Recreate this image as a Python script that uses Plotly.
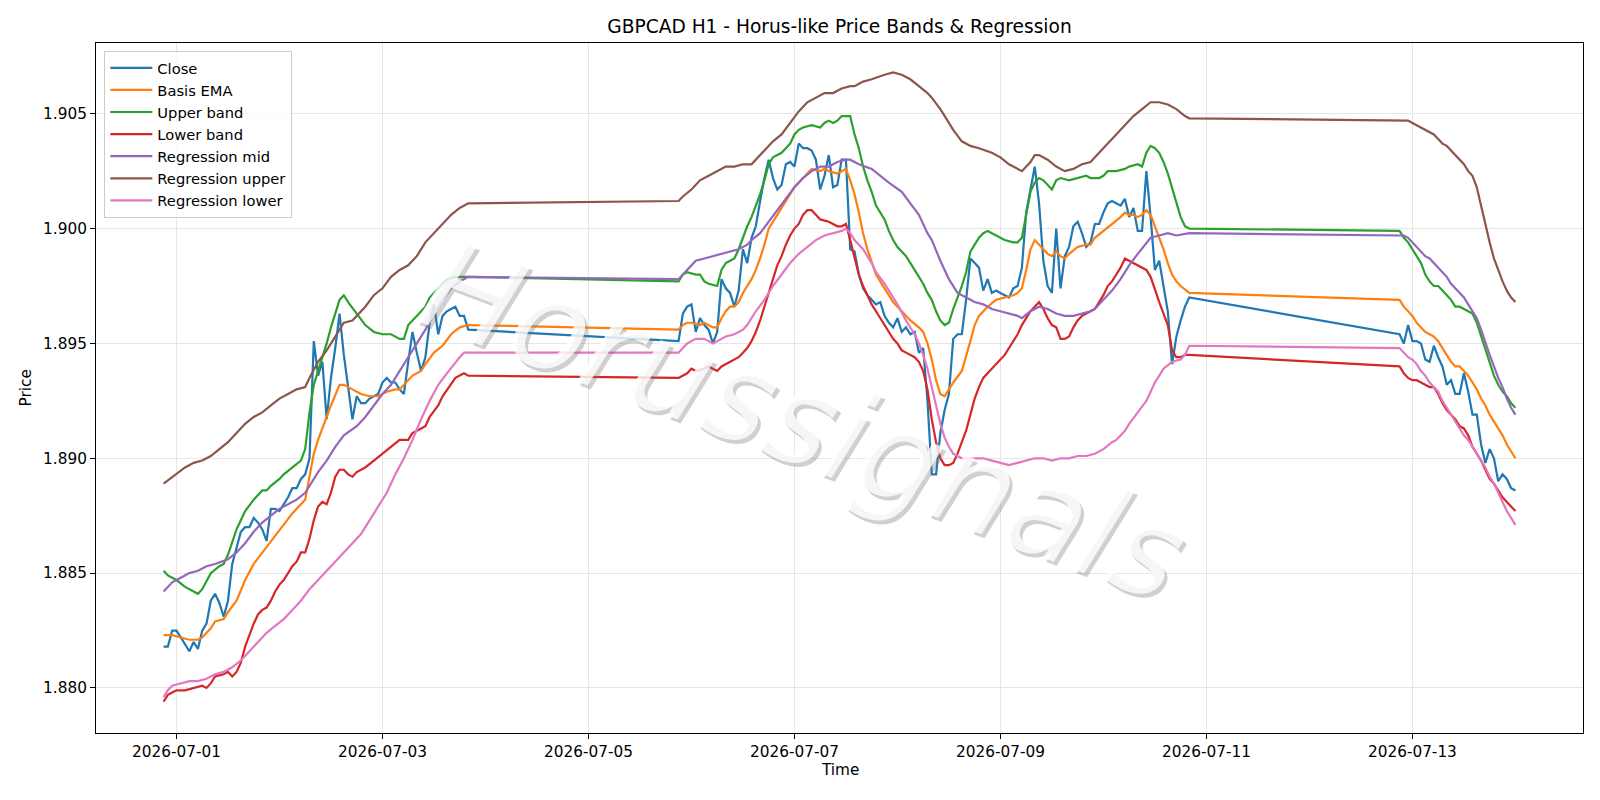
import pandas as pd
import plotly.graph_objects as go

BASE = pd.Timestamp("2026-07-01 00:00")

# ---------------- data (hours relative to 2026-07-01 00:00) ----------------
close_hours = list(range(-3, 69)) + list(range(117, 237)) + list(range(285, 313))
close_seg1 = [1.8818, 1.8818, 1.8825, 1.8825, 1.8822, 1.8819, 1.8816, 1.8820, 1.8817, 1.8825,
              1.8828, 1.8838, 1.8841, 1.8837, 1.8831, 1.8838, 1.8854, 1.8861, 1.8868, 1.8870,
              1.8870, 1.8874, 1.8872, 1.8869, 1.8864, 1.8878, 1.8878, 1.8877, 1.8880, 1.8883,
              1.8887, 1.8887, 1.8891, 1.8893, 1.8900, 1.8951, 1.8936, 1.8942, 1.8917, 1.8935,
              1.8948, 1.8963, 1.8945, 1.8930, 1.8917, 1.8927, 1.8924, 1.8924, 1.8926, 1.8927,
              1.8928, 1.8933, 1.8935, 1.8933, 1.8933, 1.8930, 1.8928, 1.8942, 1.8955, 1.8946,
              1.8938, 1.8944, 1.8959, 1.8967, 1.8954, 1.8962, 1.8964, 1.8965, 1.8966, 1.8962,
              1.8962, 1.8956]
close_seg2 = [1.8951, 1.8963, 1.8966, 1.8967, 1.8955, 1.8961, 1.8958, 1.8956, 1.8950, 1.8955,
              1.8978, 1.8974, 1.8972, 1.8966, 1.8973, 1.8991, 1.8985, 1.8996, 1.9001, 1.9012,
              1.9022, 1.9030, 1.9022, 1.9017, 1.9019, 1.9028, 1.9029, 1.9027, 1.9037, 1.9035,
              1.9035, 1.9034, 1.9030, 1.9017, 1.9023, 1.9032, 1.9018, 1.9019, 1.9030, 1.9030,
              1.8991, 1.8990, 1.8980, 1.8974, 1.8971, 1.8969, 1.8967, 1.8968, 1.8962, 1.8959,
              1.8957, 1.8961, 1.8955, 1.8957, 1.8954, 1.8955, 1.8946, 1.8948, 1.8925, 1.8893,
              1.8893, 1.8911, 1.8921, 1.8928, 1.8952, 1.8954, 1.8954, 1.8969, 1.8987, 1.8985,
              1.8983, 1.8973, 1.8978, 1.8972, 1.8973, 1.8972, 1.8971, 1.8970, 1.8974, 1.8975,
              1.8983, 1.9007, 1.9017, 1.9027, 1.9011, 1.8986, 1.8975, 1.8972, 1.9000, 1.8974,
              1.8988, 1.8992, 1.9001, 1.9003, 1.8998, 1.8992, 1.8994, 1.9002, 1.9002, 1.9007,
              1.9011, 1.9012, 1.9011, 1.9010, 1.9013, 1.9005, 1.9009, 1.8999, 1.8999, 1.9025,
              1.9005, 1.8982, 1.8986, 1.8975, 1.8964, 1.8941, 1.8953, 1.8960, 1.8966, 1.8970]
close_seg3 = [1.8954, 1.8950, 1.8958, 1.8951, 1.8951, 1.8950, 1.8943, 1.8942, 1.8949, 1.8944,
              1.8940, 1.8932, 1.8934, 1.8928, 1.8928, 1.8937, 1.8929, 1.8919, 1.8919, 1.8906,
              1.8898, 1.8904, 1.8900, 1.8890, 1.8893, 1.8891, 1.8887, 1.8886]

seg3_hours = list(range(285, 313))

ema_pts = [(-3, 1.8823), (-1, 1.8823), (1, 1.8822), (3, 1.8821), (5, 1.8821), (6, 1.8822), (8, 1.8826),
           (9, 1.8829), (11, 1.8830), (12, 1.8833), (14, 1.8838), (16, 1.8847), (18, 1.8854), (20, 1.8859),
           (21, 1.8861), (23, 1.8866), (25, 1.8871), (27, 1.8876), (29, 1.8880), (30, 1.8882), (31, 1.8892),
           (32, 1.8902), (33, 1.8908), (34, 1.8913), (36, 1.8923), (38, 1.8932), (39, 1.8932), (41, 1.8930),
           (43, 1.8928), (45, 1.8927), (47, 1.8927), (49, 1.8929), (51, 1.8930), (52, 1.8930), (53, 1.8932),
           (55, 1.8936), (57, 1.8938), (58, 1.8941), (60, 1.8946), (62, 1.8949), (64, 1.8954), (66, 1.8957),
           (68, 1.8958),
           (117, 1.8956), (118, 1.8958), (119, 1.8959), (120, 1.8959), (122, 1.8958), (123, 1.8959),
           (124, 1.8958), (125, 1.8957), (126, 1.8957), (127, 1.8961), (128, 1.8964), (129, 1.8966),
           (130, 1.8966), (131, 1.8968), (132, 1.8972), (133, 1.8975), (134, 1.8978), (135, 1.8982),
           (136, 1.8987), (137, 1.8993), (138, 1.9000), (140, 1.9006), (142, 1.9012), (144, 1.9018),
           (146, 1.9022), (148, 1.9026), (150, 1.9025), (151, 1.9026), (152, 1.9025), (154, 1.9024),
           (155, 1.9025), (156, 1.9026), (157, 1.9021), (158, 1.9015), (159, 1.9007), (160, 1.8998),
           (161, 1.8991), (162, 1.8985), (163, 1.8980), (165, 1.8974), (167, 1.8968), (169, 1.8964),
           (171, 1.8960), (173, 1.8957), (174, 1.8955), (175, 1.8950), (176, 1.8943), (177, 1.8934),
           (178, 1.8928), (179, 1.8927), (180, 1.8930), (181, 1.8933), (183, 1.8938), (184, 1.8944),
           (185, 1.8951), (186, 1.8958), (187, 1.8962), (189, 1.8966), (191, 1.8969), (193, 1.8970),
           (195, 1.8971), (196, 1.8972), (197, 1.8974), (198, 1.8982), (199, 1.8991), (200, 1.8995),
           (201, 1.8993), (203, 1.8989), (204, 1.8988), (205, 1.8990), (206, 1.8988), (207, 1.8987),
           (208, 1.8989), (210, 1.8992), (212, 1.8993), (213, 1.8993), (214, 1.8996), (216, 1.8999),
           (218, 1.9002), (220, 1.9005), (221, 1.9007), (222, 1.9006), (223, 1.9006), (224, 1.9005),
           (225, 1.9006), (226, 1.9008), (227, 1.9006), (228, 1.9001), (229, 1.8996), (230, 1.8991),
           (231, 1.8985), (232, 1.8980), (233, 1.8977), (234, 1.8975), (236, 1.8972)]
ema_seg3 = [1.8969, 1.8966, 1.8964, 1.8962, 1.8959, 1.8957, 1.8955, 1.8954, 1.8953, 1.8951,
            1.8948, 1.8945, 1.8942, 1.8940, 1.8940, 1.8938, 1.8936, 1.8933, 1.8930, 1.8926,
            1.8923, 1.8919, 1.8916, 1.8913, 1.8910, 1.8906, 1.8903, 1.8900]

upper_pts = [(-3, 1.8851), (-2, 1.8849), (0, 1.8847), (2, 1.8844), (4, 1.8842), (5, 1.8841), (6, 1.8843),
             (8, 1.8850), (10, 1.8853), (11, 1.8854), (12, 1.8858), (14, 1.8869), (16, 1.8877), (18, 1.8882),
             (20, 1.8886), (21, 1.8886), (22, 1.8888), (24, 1.8891), (25, 1.8893), (27, 1.8896), (29, 1.8899),
             (30, 1.8904), (31, 1.8920), (32, 1.8932), (33, 1.8938), (34, 1.8943), (35, 1.8950), (36, 1.8957),
             (37, 1.8963), (38, 1.8969), (39, 1.8971), (40, 1.8968), (42, 1.8963), (44, 1.8958), (46, 1.8955),
             (48, 1.8954), (50, 1.8954), (52, 1.8952), (53, 1.8952), (54, 1.8958), (56, 1.8962), (58, 1.8966),
             (59, 1.8970), (61, 1.8974), (63, 1.8978), (65, 1.8979), (68, 1.8979),
             (117, 1.8977), (118, 1.8980), (119, 1.8981), (121, 1.8980), (122, 1.8980), (123, 1.8977),
             (124, 1.8976), (126, 1.8975), (127, 1.8982), (128, 1.8985), (129, 1.8986), (130, 1.8987),
             (131, 1.8991), (132, 1.8996), (133, 1.9001), (134, 1.9005), (135, 1.9010), (136, 1.9015),
             (137, 1.9021), (138, 1.9028), (139, 1.9031), (140, 1.9032), (141, 1.9033), (142, 1.9035),
             (143, 1.9037), (144, 1.9041), (145, 1.9043), (146, 1.9044), (148, 1.9045), (150, 1.9044),
             (151, 1.9046), (152, 1.9047), (153, 1.9046), (154, 1.9047), (155, 1.9049), (157, 1.9049),
             (158, 1.9041), (159, 1.9035), (160, 1.9027), (161, 1.9021), (162, 1.9016), (163, 1.9010),
             (164, 1.9007), (165, 1.9004), (166, 1.8999), (167, 1.8995), (168, 1.8992), (170, 1.8988),
             (172, 1.8982), (173, 1.8979), (174, 1.8976), (175, 1.8972), (176, 1.8969), (177, 1.8964),
             (178, 1.8960), (179, 1.8958), (180, 1.8959), (181, 1.8965), (182, 1.8970), (183, 1.8975),
             (184, 1.8981), (185, 1.8990), (186, 1.8993), (187, 1.8996), (188, 1.8998), (189, 1.8999),
             (190, 1.8998), (192, 1.8996), (193, 1.8995), (195, 1.8994), (196, 1.8994), (197, 1.8996),
             (198, 1.9006), (199, 1.9016), (200, 1.9020), (201, 1.9022), (202, 1.9021), (203, 1.9019),
             (204, 1.9017), (205, 1.9021), (206, 1.9022), (208, 1.9021), (210, 1.9022), (212, 1.9023),
             (213, 1.9022), (215, 1.9022), (216, 1.9023), (217, 1.9025), (219, 1.9025), (221, 1.9026),
             (222, 1.9027), (224, 1.9028), (225, 1.9027), (226, 1.9033), (227, 1.9036), (228, 1.9035),
             (229, 1.9033), (230, 1.9029), (231, 1.9024), (232, 1.9018), (233, 1.9012), (234, 1.9005),
             (235, 1.9001), (236, 1.9000)]
upper_seg3 = [1.8999, 1.8996, 1.8994, 1.8991, 1.8988, 1.8985, 1.8980, 1.8977, 1.8975, 1.8975,
              1.8973, 1.8971, 1.8969, 1.8966, 1.8966, 1.8965, 1.8964, 1.8963, 1.8959, 1.8953,
              1.8947, 1.8941, 1.8936, 1.8932, 1.8929, 1.8927, 1.8924, 1.8922]

lower_pts = [(-3, 1.8794), (-2, 1.8797), (-1, 1.8798), (0, 1.8799), (2, 1.8799), (4, 1.8800), (6, 1.8801),
             (7, 1.8800), (8, 1.8802), (9, 1.8805), (11, 1.8806), (12, 1.8807), (13, 1.8805), (14, 1.8807),
             (15, 1.8811), (16, 1.8818), (17, 1.8823), (18, 1.8828), (19, 1.8832), (20, 1.8834), (21, 1.8835),
             (22, 1.8838), (23, 1.8842), (24, 1.8845), (25, 1.8847), (26, 1.8850), (27, 1.8853), (28, 1.8855),
             (29, 1.8859), (30, 1.8859), (31, 1.8865), (32, 1.8873), (33, 1.8879), (34, 1.8881), (35, 1.8880),
             (36, 1.8885), (37, 1.8892), (38, 1.8895), (39, 1.8895), (40, 1.8893), (41, 1.8892), (42, 1.8894),
             (44, 1.8896), (46, 1.8899), (48, 1.8902), (50, 1.8905), (52, 1.8908), (54, 1.8908), (55, 1.8911),
             (57, 1.8913), (58, 1.8914), (59, 1.8918), (61, 1.8923), (62, 1.8927), (64, 1.8932), (65, 1.8935),
             (67, 1.8937), (68, 1.8936),
             (117, 1.8935), (118, 1.8936), (119, 1.8937), (120, 1.8939), (121, 1.8938), (123, 1.8939),
             (124, 1.8940), (125, 1.8939), (126, 1.8938), (127, 1.8940), (128, 1.8941), (129, 1.8942),
             (130, 1.8943), (131, 1.8944), (132, 1.8946), (133, 1.8948), (134, 1.8951), (135, 1.8955),
             (136, 1.8960), (137, 1.8966), (138, 1.8973), (139, 1.8979), (140, 1.8984), (141, 1.8988),
             (142, 1.8993), (143, 1.8997), (144, 1.9000), (145, 1.9002), (146, 1.9006), (147, 1.9008),
             (148, 1.9008), (149, 1.9006), (150, 1.9004), (152, 1.9003), (154, 1.9001), (155, 1.9001),
             (156, 1.9002), (157, 1.8995), (158, 1.8987), (159, 1.8980), (160, 1.8975), (161, 1.8971),
             (162, 1.8967), (163, 1.8964), (164, 1.8961), (165, 1.8958), (166, 1.8955), (167, 1.8952),
             (168, 1.8950), (169, 1.8947), (170, 1.8946), (171, 1.8945), (172, 1.8944), (173, 1.8942),
             (174, 1.8938), (175, 1.8930), (176, 1.8917), (177, 1.8907), (178, 1.8900), (179, 1.8897),
             (180, 1.8897), (181, 1.8898), (182, 1.8902), (183, 1.8907), (184, 1.8912), (185, 1.8919),
             (186, 1.8926), (187, 1.8931), (188, 1.8935), (189, 1.8937), (190, 1.8939), (191, 1.8941),
             (192, 1.8943), (193, 1.8945), (194, 1.8948), (195, 1.8951), (196, 1.8954), (197, 1.8958),
             (198, 1.8961), (199, 1.8964), (200, 1.8966), (201, 1.8968), (202, 1.8965), (203, 1.8961),
             (204, 1.8958), (205, 1.8957), (206, 1.8952), (207, 1.8952), (208, 1.8953), (209, 1.8957),
             (210, 1.8960), (211, 1.8962), (212, 1.8963), (213, 1.8964), (214, 1.8965), (215, 1.8968),
             (216, 1.8971), (217, 1.8975), (218, 1.8977), (219, 1.8980), (220, 1.8983), (221, 1.8987),
             (222, 1.8986), (223, 1.8985), (224, 1.8984), (225, 1.8983), (226, 1.8982), (227, 1.8979),
             (228, 1.8973), (229, 1.8968), (230, 1.8963), (231, 1.8958), (232, 1.8947), (233, 1.8944),
             (234, 1.8944), (235, 1.8945), (236, 1.8945)]
lower_seg3 = [1.8940, 1.8937, 1.8935, 1.8934, 1.8934, 1.8933, 1.8932, 1.8931, 1.8931, 1.8928,
              1.8924, 1.8921, 1.8919, 1.8917, 1.8914, 1.8913, 1.8910, 1.8905, 1.8902, 1.8899,
              1.8895, 1.8891, 1.8889, 1.8886, 1.8883, 1.8881, 1.8879, 1.8877]

mid_pts = [(-3, 1.8842), (-1, 1.8846), (1, 1.8848), (3, 1.8850), (5, 1.8851), (7, 1.8853), (9, 1.8854),
           (12, 1.8856), (14, 1.8859), (16, 1.8863), (18, 1.8868), (20, 1.8872), (22, 1.8875), (24, 1.8878),
           (26, 1.8880), (28, 1.8882), (30, 1.8885), (31, 1.8888), (33, 1.8894), (35, 1.8899), (37, 1.8905),
           (39, 1.8910), (42, 1.8914), (44, 1.8918), (46, 1.8923), (48, 1.8928), (50, 1.8932), (52, 1.8938),
           (54, 1.8944), (56, 1.8950), (58, 1.8956), (60, 1.8963), (62, 1.8969), (64, 1.8974), (66, 1.8977),
           (68, 1.8979),
           (117, 1.8978), (118, 1.8980), (120, 1.8984), (121, 1.8986), (123, 1.8987), (125, 1.8988),
           (127, 1.8989), (129, 1.8990), (131, 1.8991), (133, 1.8993), (134, 1.8995), (136, 1.8998),
           (138, 1.9003), (140, 1.9008), (142, 1.9013), (144, 1.9018), (146, 1.9022), (148, 1.9025),
           (150, 1.9027), (152, 1.9027), (154, 1.9029), (156, 1.9030), (157, 1.9030), (159, 1.9028),
           (162, 1.9026), (164, 1.9023), (166, 1.9020), (169, 1.9016), (171, 1.9011), (173, 1.9006),
           (175, 1.8998), (176, 1.8995), (178, 1.8986), (180, 1.8978), (182, 1.8972), (184, 1.8970),
           (186, 1.8968), (188, 1.8967), (190, 1.8965), (192, 1.8964), (194, 1.8963), (196, 1.8962),
           (197, 1.8961), (199, 1.8964), (201, 1.8966), (203, 1.8965), (205, 1.8963), (207, 1.8962),
           (209, 1.8962), (211, 1.8963), (213, 1.8964), (214, 1.8965), (216, 1.8969), (218, 1.8973),
           (220, 1.8978), (222, 1.8984), (224, 1.8989), (226, 1.8994), (227, 1.8996), (229, 1.8997),
           (231, 1.8998), (233, 1.8997), (236, 1.8998)]
mid_seg3 = [1.8997, 1.8997, 1.8996, 1.8994, 1.8992, 1.8990, 1.8988, 1.8987, 1.8985, 1.8983,
            1.8981, 1.8979, 1.8976, 1.8974, 1.8972, 1.8970, 1.8967, 1.8964, 1.8961, 1.8956,
            1.8950, 1.8945, 1.8940, 1.8935, 1.8931, 1.8926, 1.8922, 1.8919]

reg_up_pts = [(-3, 1.8889), (0, 1.8893), (2, 1.8896), (4, 1.8898), (6, 1.8899), (8, 1.8901), (10, 1.8904),
              (12, 1.8907), (14, 1.8911), (16, 1.8915), (18, 1.8918), (20, 1.8920), (22, 1.8923), (24, 1.8926),
              (26, 1.8928), (28, 1.8930), (30, 1.8931), (31, 1.8935), (33, 1.8942), (35, 1.8947), (37, 1.8953),
              (39, 1.8959), (41, 1.8960), (42, 1.8962), (44, 1.8966), (46, 1.8971), (48, 1.8974), (50, 1.8979),
              (52, 1.8982), (54, 1.8984), (56, 1.8988), (58, 1.8994), (60, 1.8998), (62, 1.9002), (64, 1.9006),
              (66, 1.9009), (68, 1.9011),
              (117, 1.9012), (118, 1.9014), (120, 1.9017), (122, 1.9021), (124, 1.9023), (126, 1.9025),
              (128, 1.9027), (130, 1.9027), (132, 1.9028), (134, 1.9028), (135, 1.9030), (137, 1.9034),
              (139, 1.9038), (141, 1.9041), (143, 1.9046), (145, 1.9051), (147, 1.9055), (149, 1.9057),
              (151, 1.9059), (153, 1.9059), (155, 1.9061), (157, 1.9062), (158, 1.9062), (160, 1.9064),
              (162, 1.9065), (165, 1.9067), (167, 1.9068), (169, 1.9067), (171, 1.9065), (173, 1.9062),
              (175, 1.9059), (176, 1.9057), (178, 1.9052), (180, 1.9046), (181, 1.9043), (183, 1.9038),
              (185, 1.9036), (187, 1.9035), (190, 1.9033), (192, 1.9031), (194, 1.9028), (197, 1.9025),
              (199, 1.9029), (200, 1.9032), (201, 1.9032), (203, 1.9030), (205, 1.9027), (207, 1.9025),
              (209, 1.9026), (211, 1.9028), (213, 1.9029), (215, 1.9033), (217, 1.9037), (219, 1.9041),
              (221, 1.9045), (223, 1.9049), (225, 1.9052), (227, 1.9055), (229, 1.9055), (231, 1.9054),
              (233, 1.9052), (235, 1.9049), (236, 1.9048)]
reg_up_seg3 = [1.9047, 1.9047, 1.9047, 1.9046, 1.9045, 1.9044, 1.9043, 1.9042, 1.9041, 1.9039,
               1.9037, 1.9036, 1.9034, 1.9032, 1.9030, 1.9028, 1.9025, 1.9023, 1.9018, 1.9010,
               1.9001, 1.8994, 1.8987, 1.8982, 1.8977, 1.8973, 1.8970, 1.8968]

reg_lo_pts = [(-3, 1.8796), (-2, 1.8799), (-1, 1.8801), (1, 1.8802), (3, 1.8803), (5, 1.8803), (7, 1.8804),
              (9, 1.8806), (11, 1.8807), (13, 1.8809), (15, 1.8812), (17, 1.8816), (19, 1.8820), (21, 1.8824),
              (23, 1.8827), (25, 1.8830), (27, 1.8834), (29, 1.8838), (31, 1.8843), (33, 1.8847), (35, 1.8851),
              (37, 1.8855), (39, 1.8859), (41, 1.8863), (43, 1.8867), (45, 1.8873), (47, 1.8879), (49, 1.8885),
              (51, 1.8893), (53, 1.8900), (55, 1.8908), (57, 1.8917), (59, 1.8925), (61, 1.8932), (63, 1.8937),
              (65, 1.8942), (66, 1.8944), (67, 1.8946), (68, 1.8946),
              (117, 1.8946), (118, 1.8948), (119, 1.8950), (121, 1.8952), (123, 1.8952), (124, 1.8951),
              (125, 1.8950), (127, 1.8952), (128, 1.8953), (130, 1.8954), (132, 1.8956), (133, 1.8958),
              (135, 1.8964), (137, 1.8969), (139, 1.8975), (141, 1.8980), (143, 1.8985), (145, 1.8989),
              (147, 1.8992), (149, 1.8995), (151, 1.8997), (153, 1.8998), (155, 1.8999), (156, 1.9000),
              (157, 1.8998), (158, 1.8995), (159, 1.8993), (160, 1.8991), (162, 1.8985), (163, 1.8981),
              (165, 1.8976), (166, 1.8973), (168, 1.8967), (170, 1.8960), (171, 1.8957), (172, 1.8954),
              (173, 1.8950), (174, 1.8945), (175, 1.8939), (176, 1.8931), (177, 1.8922), (178, 1.8915),
              (179, 1.8909), (180, 1.8905), (181, 1.8902), (183, 1.8900), (185, 1.8900), (188, 1.8900),
              (190, 1.8899), (192, 1.8898), (194, 1.8897), (196, 1.8898), (198, 1.8899), (200, 1.8900),
              (202, 1.8900), (204, 1.8899), (206, 1.8900), (208, 1.8900), (210, 1.8901), (212, 1.8901),
              (214, 1.8902), (216, 1.8904), (218, 1.8907), (219, 1.8908), (221, 1.8912), (222, 1.8915),
              (224, 1.8920), (226, 1.8925), (227, 1.8929), (228, 1.8933), (229, 1.8936), (230, 1.8939),
              (232, 1.8942), (234, 1.8943), (235, 1.8945), (236, 1.8949)]
reg_lo_seg3 = [1.8948, 1.8946, 1.8944, 1.8943, 1.8941, 1.8938, 1.8936, 1.8933, 1.8931, 1.8929,
               1.8925, 1.8922, 1.8919, 1.8916, 1.8913, 1.8910, 1.8908, 1.8905, 1.8902, 1.8899,
               1.8896, 1.8892, 1.8889, 1.8885, 1.8881, 1.8877, 1.8874, 1.8871]

y_ticks = [1.880, 1.885, 1.890, 1.895, 1.900, 1.905]
x_tick_days = ["2026-07-01", "2026-07-03", "2026-07-05", "2026-07-07",
               "2026-07-09", "2026-07-11", "2026-07-13"]


def to_time(hours):
    return [BASE + pd.Timedelta(hours=h) for h in hours]


def series(pts, seg3_vals):
    hrs = [p[0] for p in pts] + seg3_hours
    vals = [p[1] for p in pts] + list(seg3_vals)
    return to_time(hrs), vals


FONT = "DejaVu Sans, Liberation Sans, sans-serif"
FS = 15.3
colors = ["#1f77b4", "#ff7f0e", "#2ca02c", "#d62728", "#9467bd", "#8c564b", "#e377c2"]

traces = [
    ("Close", to_time(close_hours), close_seg1 + close_seg2 + close_seg3),
    ("Basis EMA",) + series(ema_pts, ema_seg3),
    ("Upper band",) + series(upper_pts, upper_seg3),
    ("Lower band",) + series(lower_pts, lower_seg3),
    ("Regression mid",) + series(mid_pts, mid_seg3),
    ("Regression upper",) + series(reg_up_pts, reg_up_seg3),
    ("Regression lower",) + series(reg_lo_pts, reg_lo_seg3),
]

fig = go.Figure()
for i, (name, xs, ys) in enumerate(traces):
    fig.add_trace(go.Scatter(x=xs, y=ys, mode="lines", name=name,
                             line=dict(color=colors[i], width=2.2)))

x_lo = BASE + pd.Timedelta(hours=-18.75)
x_hi = BASE + pd.Timedelta(hours=327.75)

axis_common = dict(showline=True, linecolor="black", linewidth=1.1, mirror=True,
                   ticks="outside", ticklen=5, tickwidth=1.1, tickcolor="black",
                   showgrid=True, gridcolor="#e6e6e6", gridwidth=1, zeroline=False,
                   tickfont=dict(family=FONT, size=FS, color="black"))

fig.update_layout(
    width=1600, height=800,
    margin=dict(l=96, r=17, t=43, b=67),
    paper_bgcolor="white", plot_bgcolor="white",
    title=dict(text="GBPCAD H1 - Horus-like Price Bands &amp; Regression",
               x=0.5, xref="paper", xanchor="center",
               y=1 - 26 / 800, yref="container", yanchor="middle",
               font=dict(family=FONT, size=18.6, color="black")),
    xaxis=dict(type="date", range=[x_lo, x_hi],
               tickvals=[pd.Timestamp(d) for d in x_tick_days], ticktext=x_tick_days,
               **axis_common),
    yaxis=dict(range=[1.87804, 1.90808], tickvals=y_ticks,
               ticktext=[f"{v:.3f}" for v in y_ticks], **axis_common),
    legend=dict(x=0.0056, y=0.9888, xanchor="left", yanchor="top",
                bgcolor="rgba(255,255,255,0.8)", bordercolor="#cccccc", borderwidth=1,
                font=dict(family=FONT, size=14.7, color="black"),
                itemwidth=42),
    showlegend=True,
)

WM_X = (803 - 96) / 1487
WM_Y = (733 - 421) / 690
annotations = [
    dict(text="Time", x=0.5, y=(733 - 770) / 690, xref="paper", yref="paper",
         xanchor="center", yanchor="middle", showarrow=False,
         font=dict(family=FONT, size=FS, color="black")),
    dict(text="Price", x=(25.5 - 96) / 1487, y=0.5, xref="paper", yref="paper",
         xanchor="center", yanchor="middle", showarrow=False, textangle=-90,
         font=dict(family=FONT, size=FS, color="black")),
    # watermark: shadow + light front
    dict(text="Horussignals", x=WM_X, y=WM_Y, xref="paper", yref="paper",
         xanchor="center", yanchor="middle", showarrow=False, textangle=20.7,
         xshift=3, yshift=-4,
         font=dict(family="DejaVu Sans", size=125, color="rgba(120,120,120,0.35)", style="italic")),
    dict(text="Horussignals", x=WM_X, y=WM_Y, xref="paper", yref="paper",
         xanchor="center", yanchor="middle", showarrow=False, textangle=20.7,
         font=dict(family="DejaVu Sans", size=125, color="rgba(255,255,255,0.8)", style="italic")),
]
fig.update_layout(annotations=annotations)

fig.write_html("out.html", config={"displayModeBar": False})
